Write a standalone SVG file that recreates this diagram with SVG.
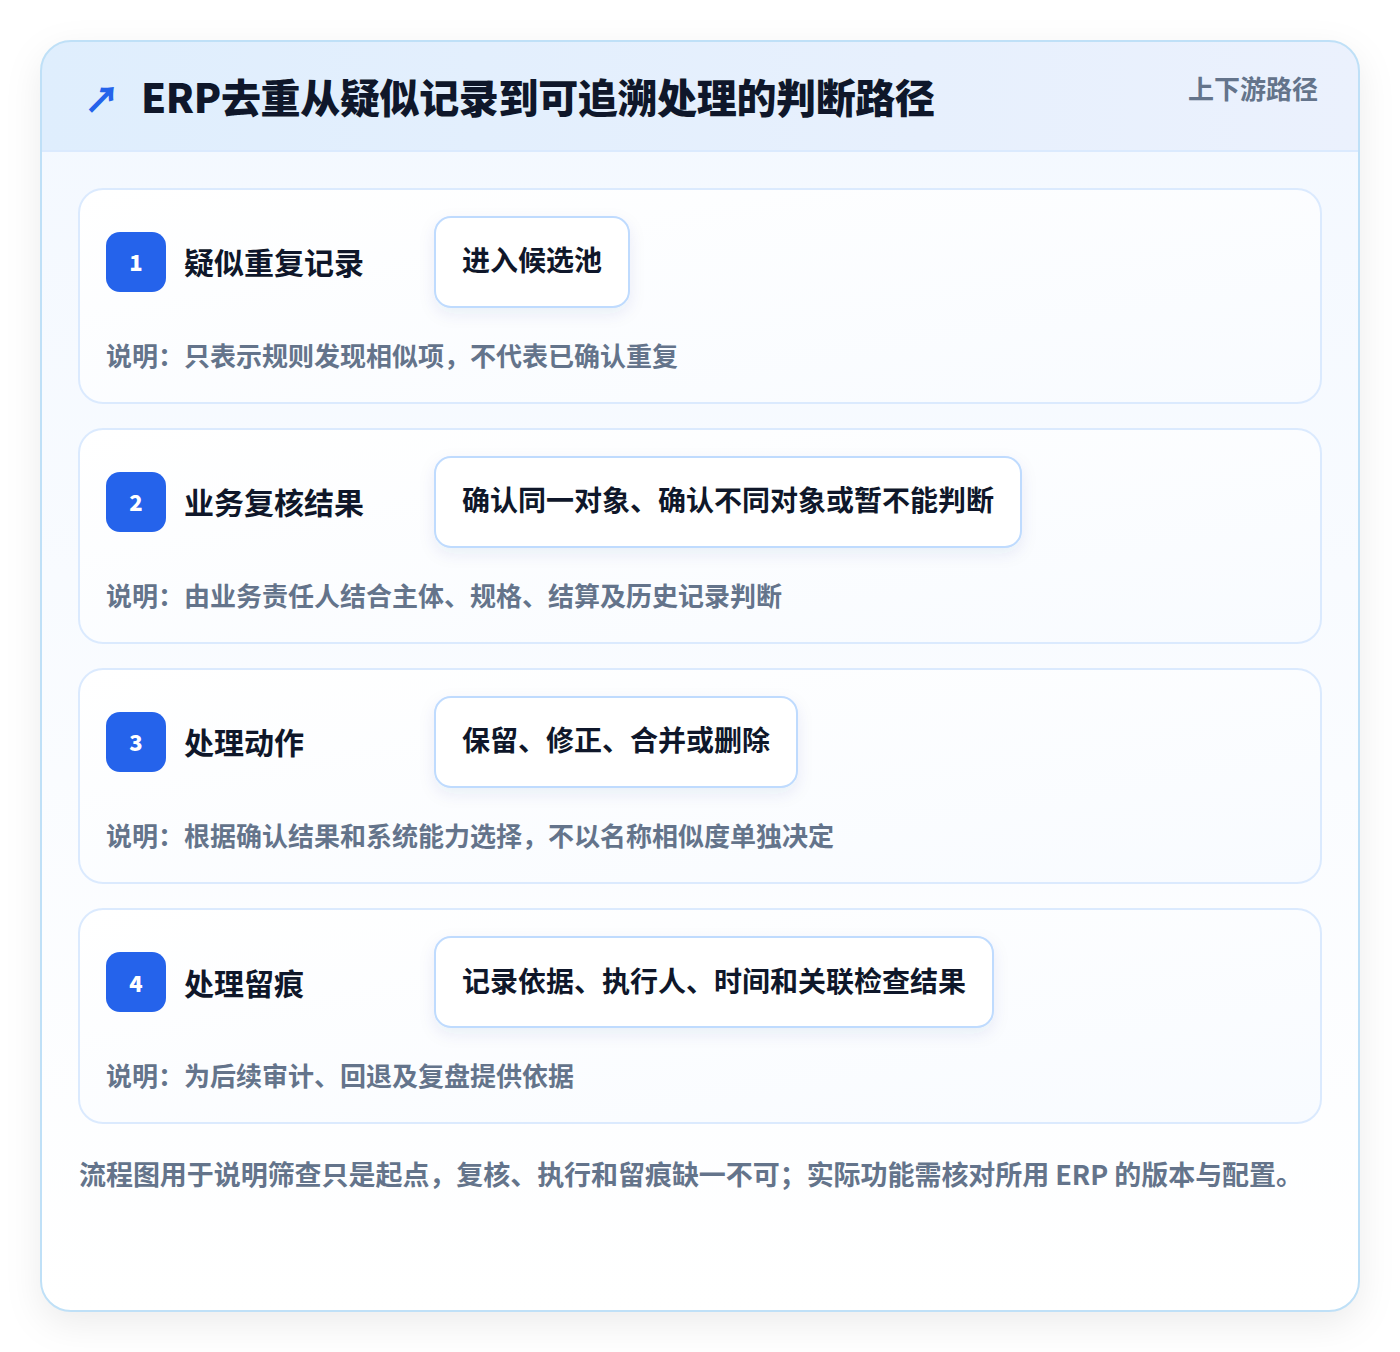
<svg xmlns="http://www.w3.org/2000/svg" width="1400" height="1352" viewBox="0 0 1400 1352">
<defs>
<style>
text{font-family:"Noto Sans CJK SC","Noto Sans",sans-serif;font-weight:700}
.card{fill:url(#cardg);stroke:#dbeafe;stroke-width:2}
.badge{fill:#2563eb}
.num{fill:#ffffff;font-size:22px;text-anchor:middle;font-weight:900}
.ttl{fill:#0f172a;font-size:30px}
.pill{fill:#ffffff;stroke:#bfdbfe;stroke-width:2}
.ptx{fill:#0f172a;font-size:28px}
.desc{fill:#64748b;font-size:26px}
</style>
<linearGradient id="hdr" x1="0" y1="0" x2="1" y2="0">
<stop offset="0" stop-color="#dfeefd"/>
<stop offset="1" stop-color="#ebf1fd"/>
</linearGradient>
<linearGradient id="body" x1="0" y1="0" x2="0" y2="1">
<stop offset="0" stop-color="#f3f8ff"/>
<stop offset="1" stop-color="#ffffff"/>
</linearGradient>
<linearGradient id="cardg" x1="0" y1="0" x2="1" y2="1">
<stop offset="0" stop-color="#ffffff"/>
<stop offset="1" stop-color="#f8fbff"/>
</linearGradient>
<filter id="sh" x="-10%" y="-10%" width="120%" height="120%">
<feDropShadow dx="0" dy="12" stdDeviation="18" flood-color="#0f172a" flood-opacity="0.08"/>
</filter>
<filter id="psh" x="-20%" y="-30%" width="140%" height="180%">
<feDropShadow dx="0" dy="6" stdDeviation="8" flood-color="#1e3a8a" flood-opacity="0.08"/>
</filter>
<clipPath id="outer"><rect x="41" y="41" width="1318" height="1270" rx="30"/></clipPath>
</defs>
<rect width="1400" height="1352" fill="#ffffff"/>
<g id="frame">
<rect x="41" y="41" width="1318" height="1270" rx="30" fill="url(#body)" filter="url(#sh)"/>
<g clip-path="url(#outer)">
<rect x="41" y="41" width="1318" height="111" fill="url(#hdr)"/>
<line x1="41" y1="151" x2="1359" y2="151" stroke="#dbeafe" stroke-width="2"/>
</g>
<rect x="41" y="41" width="1318" height="1270" rx="30" fill="none" stroke="#bfe0f7" stroke-width="2"/>
</g>
<g id="header">
<text x="84" y="113" font-size="36" fill="#2563eb" style="font-weight:900">↗</text>
<text x="141" y="113" font-size="40" fill="#0f172a" style="font-weight:900" textLength="794">ERP去重从疑似记录到可追溯处理的判断路径</text>
<text x="1318" y="99" font-size="26" fill="#64748b" text-anchor="end">上下游路径</text>
</g>
<g id="step1">
<rect class="card" x="79" y="189" width="1242" height="214" rx="24"/>
<rect class="badge" x="106" y="232" width="60" height="60" rx="14"/>
<text class="num" x="136" y="271">1</text>
<text class="ttl" x="184" y="274">疑似重复记录</text>
<rect class="pill" x="435" y="217" width="194" height="90" rx="16" filter="url(#psh)"/>
<text class="ptx" x="462" y="271">进入候选池</text>
<text class="desc" x="106" y="366">说明：只表示规则发现相似项，不代表已确认重复</text>
</g>
<g id="step2">
<rect class="card" x="79" y="429" width="1242" height="214" rx="24"/>
<rect class="badge" x="106" y="472" width="60" height="60" rx="14"/>
<text class="num" x="136" y="511">2</text>
<text class="ttl" x="184" y="514">业务复核结果</text>
<rect class="pill" x="435" y="457" width="586" height="90" rx="16" filter="url(#psh)"/>
<text class="ptx" x="462" y="511">确认同一对象、确认不同对象或暂不能判断</text>
<text class="desc" x="106" y="606">说明：由业务责任人结合主体、规格、结算及历史记录判断</text>
</g>
<g id="step3">
<rect class="card" x="79" y="669" width="1242" height="214" rx="24"/>
<rect class="badge" x="106" y="712" width="60" height="60" rx="14"/>
<text class="num" x="136" y="751">3</text>
<text class="ttl" x="184" y="754">处理动作</text>
<rect class="pill" x="435" y="697" width="362" height="90" rx="16" filter="url(#psh)"/>
<text class="ptx" x="462" y="751">保留、修正、合并或删除</text>
<text class="desc" x="106" y="846">说明：根据确认结果和系统能力选择，不以名称相似度单独决定</text>
</g>
<g id="step4">
<rect class="card" x="79" y="909" width="1242" height="214" rx="24"/>
<rect class="badge" x="106" y="952" width="60" height="60" rx="14"/>
<text class="num" x="136" y="992">4</text>
<text class="ttl" x="184" y="995">处理留痕</text>
<rect class="pill" x="435" y="937" width="558" height="90" rx="16" filter="url(#psh)"/>
<text class="ptx" x="462" y="992">记录依据、执行人、时间和关联检查结果</text>
<text class="desc" x="106" y="1086">说明：为后续审计、回退及复盘提供依据</text>
</g>
<g id="connectors"></g>
<text id="footer" x="79" y="1185" font-size="27" fill="#64748b" textLength="1224">流程图用于说明筛查只是起点，复核、执行和留痕缺一不可；实际功能需核对所用 ERP 的版本与配置。</text>
</svg>
